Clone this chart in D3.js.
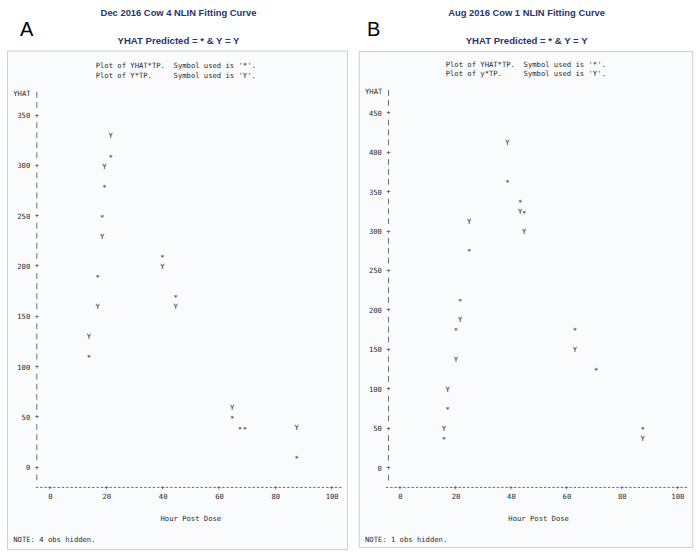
<!DOCTYPE html>
<html><head><meta charset="utf-8">
<script src="https://cdn.jsdelivr.net/npm/d3@7"></script>
<style>
html,body{margin:0;padding:0;background:#fff;}
svg{display:block;}
</style></head>
<body>
<svg id="chart" width="700" height="560"></svg>
<script>
// ---------- data ----------
const xTicks = [0, 20, 40, 60, 80, 100];

// Panel A : Dec 2016 Cow 4
const titleA = "Dec 2016 Cow 4 NLIN Fitting Curve";
const tpA   = [13.8, 16.9, 18.5, 19.3, 21.5, 39.9, 44.6, 64.7, 67.4, 69.2, 87.6];
const yhatA = [110.9, 190.3, 250.0, 279.8, 309.6, 210.2, 170.5, 50.3, 39.7, 39.7, 10.5];
const yA    = [129.7, 159.5, 229.5, 298.6, 329.4, 199.3, 159.5, 59.2, null, null, 39.7];
const yTicksA = [0, 50, 100, 150, 200, 250, 300, 350];
const legendA = ["Plot of YHAT*TP.  Symbol used is '*'.", "Plot of Y*TP.     Symbol used is 'Y'."];
const noteA = "NOTE: 4 obs hidden.";

// Panel B : Aug 2016 Cow 1
const titleB = "Aug 2016 Cow 1 NLIN Fitting Curve";
const tpB   = [15.8, 17.2, 20.2, 21.7, 24.9, 38.7, 43.3, 44.8, 63.1, 70.7, 87.5];
const yhatB = [38.5, 76.0, 175.8, 213.4, 275.9, 363.7, 338.4, 324.5, 175.8, 126.0, 51.2];
const yB    = [49.9, 99.7, 137.4, 188.5, 312.7, 412.4, 324.5, 300.0, 150.4, null, 37.3];
const yTicksB = [0, 50, 100, 150, 200, 250, 300, 350, 400, 450];
const legendB = ["Plot of YHAT*TP.  Symbol used is '*'.", "Plot of y*TP.     Symbol used is 'Y'."];
const noteB = "NOTE: 1 obs hidden.";

const subtitle = "YHAT Predicted = * & Y = Y";
const xLabel = "Hour Post Dose";
const yLabel = "YHAT";

// ---------- drawing ----------
const svg = d3.select("#chart");
const MONO = "'DejaVu Sans Mono', 'Liberation Mono', monospace";
const SANS = "'Liberation Sans', Arial, sans-serif";
const FS = 7.2;
const TXT = "#2a2a2a";
const AXC = "#5e5e5e";
const NAVY = "#28346f";

function drawPanel(p) {
  const g = svg.append("g");
  // frame
  g.append("rect").attr("x", p.box[0]).attr("y", p.box[1]).attr("width", p.box[2]).attr("height", p.box[3])
    .attr("fill", "#fafbfd").attr("stroke", "#cfd0d4").attr("stroke-width", 1);
  // letter
  g.append("text").attr("x", p.letterX).attr("y", 36).text(p.letter)
    .attr("font-family", SANS).attr("font-size", 20).attr("fill", "#000");
  // titles
  g.append("text").attr("x", p.cx).attr("y", 12.7).attr("dominant-baseline", "central")
    .attr("text-anchor", "middle").attr("font-family", SANS).attr("font-weight", "bold")
    .attr("font-size", 9.4).attr("fill", NAVY).text(p.title);
  g.append("text").attr("x", p.cx).attr("y", 40.5).attr("dominant-baseline", "central")
    .attr("text-anchor", "middle").attr("font-family", SANS).attr("font-weight", "bold")
    .attr("font-size", 9.6).attr("fill", NAVY).text(subtitle);

  const x = d3.scaleLinear().domain([0, 100]).range(p.xRange);
  const y = d3.scaleLinear().domain(p.yDomain).range(p.yRange);

  // legend lines
  p.legend.forEach((t, i) => {
    g.append("text").attr("x", p.legendX).attr("y", p.legendY[i]).attr("dominant-baseline", "central")
      .attr("xml:space", "preserve").style("white-space", "pre")
      .attr("font-family", MONO).attr("font-size", FS).attr("fill", TXT).text(t);
  });

  // vertical axis rows ("|" marks)
  const rows = d3.range(p.rowMin, p.rowMax + 0.01, p.rowStep).filter(v => Math.abs(v % 50) > 0.01);
  g.append("g").selectAll("line").data(rows).join("line")
    .attr("x1", p.yAxisX).attr("x2", p.yAxisX)
    .attr("y1", d => y(d) - 2.9).attr("y2", d => y(d) + 2.9)
    .attr("stroke", AXC).attr("stroke-width", 0.9);

  // y axis labels via d3 axis
  const ya = g.append("g").attr("transform", `translate(${p.yAxisX},0)`)
    .call(d3.axisLeft(y).tickValues(p.yTicks).tickSize(0).tickPadding(6.6));
  ya.select(".domain").remove();
  ya.attr("font-family", null).attr("font-size", null);
  ya.selectAll("text").attr("font-family", MONO).attr("font-size", FS).attr("fill", TXT)
    .attr("dy", null).attr("dominant-baseline", "central");
  // "+" ticks on y axis
  g.append("g").selectAll("text").data(p.yTicks).join("text")
    .attr("x", p.yAxisX).attr("y", d => y(d)).attr("text-anchor", "middle")
    .attr("dominant-baseline", "central").attr("font-family", MONO).attr("font-size", FS)
    .attr("fill", TXT).text("+");

  // YHAT label on the top row
  g.append("text").attr("x", p.yLabX).attr("y", y(p.rowMax) - 1).attr("dominant-baseline", "central")
    .attr("font-family", MONO).attr("font-size", FS).attr("fill", TXT).text(yLabel);

  // horizontal axis: dashed columns
  const axisY = y(p.rowMin - p.rowStep);
  const cw = (x(20) - x(0)) / 13;
  const cols = d3.range(-3, 68).filter(k => k % 13 !== 0);
  g.append("g").selectAll("line").data(cols).join("line")
    .attr("x1", k => x(0) + k * cw - 1.2).attr("x2", k => x(0) + k * cw + 1.2)
    .attr("y1", axisY).attr("y2", axisY).attr("stroke", AXC).attr("stroke-width", 0.9);
  g.append("g").selectAll("text").data(xTicks).join("text")
    .attr("x", d => x(d)).attr("y", axisY).attr("text-anchor", "middle")
    .attr("dominant-baseline", "central").attr("font-family", MONO).attr("font-size", FS)
    .attr("fill", TXT).text("+");
  const xa = g.append("g").attr("transform", `translate(0,${axisY})`)
    .call(d3.axisBottom(x).tickValues(xTicks).tickSize(0).tickPadding(9.4));
  xa.select(".domain").remove();
  xa.attr("font-family", null).attr("font-size", null);
  xa.selectAll("text").attr("font-family", MONO).attr("font-size", FS).attr("fill", TXT)
    .attr("dy", null).attr("dominant-baseline", "central");

  // x label
  g.append("text").attr("x", x(50)).attr("y", axisY + 31).attr("text-anchor", "middle")
    .attr("dominant-baseline", "central").attr("font-family", MONO).attr("font-size", FS)
    .attr("fill", TXT).text(xLabel);
  // note
  g.append("text").attr("x", p.noteX).attr("y", p.noteY).attr("dominant-baseline", "central")
    .attr("font-family", MONO).attr("font-size", FS).attr("fill", TXT).text(p.note);

  // data symbols
  const predicted = p.tp.map((t, i) => ({t, v: p.yhat[i]})).filter(d => d.v != null);
  const observed = p.tp.map((t, i) => ({t, v: p.yobs[i]})).filter(d => d.v != null);
  g.append("g").selectAll("text").data(predicted).join("text")
    .attr("x", d => x(d.t)).attr("y", d => y(d.v) + 4.2).attr("text-anchor", "middle")
    .attr("font-family", MONO).attr("font-size", FS).attr("fill", TXT).text("*");
  g.append("g").selectAll("text").data(observed).join("text")
    .attr("x", d => x(d.t)).attr("y", d => y(d.v) + 2.6).attr("text-anchor", "middle")
    .attr("font-family", MONO).attr("font-size", FS).attr("fill", TXT).text("Y");
}

drawPanel({
  box: [7.5, 51, 340, 498.5], letter: "A", letterX: 20, cx: 178.5, title: titleA,
  xRange: [50, 331.7], yDomain: [0, 350], yRange: [467.3, 115],
  rowMin: -10, rowMax: 370, rowStep: 10, yAxisX: 36.8, yLabX: 13.3,
  yTicks: yTicksA, legend: legendA, legendX: 95.7, legendY: [65.5, 75.5],
  note: noteA, noteX: 13.3, noteY: 539.3,
  tp: tpA, yhat: yhatA, yobs: yA
});
drawPanel({
  box: [359.3, 51.5, 333.4, 496], letter: "B", letterX: 367, cx: 526.6, title: titleB,
  xRange: [400, 677.3], yDomain: [0, 450], yRange: [467.7, 112.7],
  rowMin: -12.5, rowMax: 475, rowStep: 12.5, yAxisX: 388.5, yLabX: 365,
  yTicks: yTicksB, legend: legendB, legendX: 445.7, legendY: [64, 73.8],
  note: noteB, noteX: 365, noteY: 539,
  tp: tpB, yhat: yhatB, yobs: yB
});
</script>
</body></html>
